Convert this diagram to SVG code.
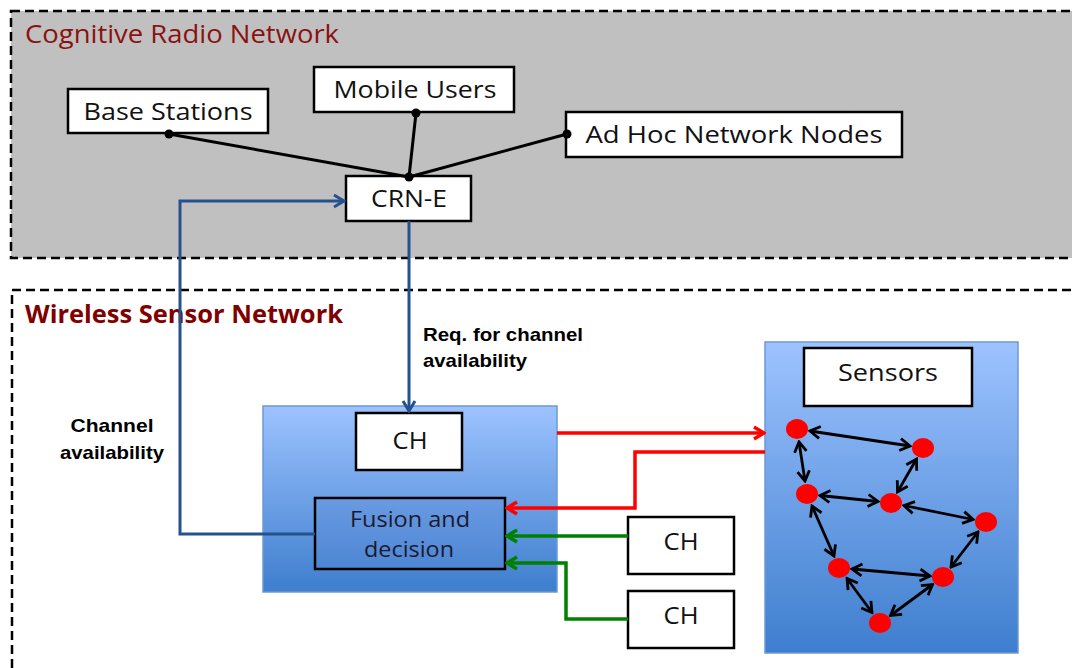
<svg xmlns="http://www.w3.org/2000/svg" width="1072" height="668" viewBox="0 0 1072 668">
<style>
.box{fill:#fff;stroke:#000;stroke-width:2.5}
.lbl{font-family:"Open Sans","Noto Sans",sans-serif;font-size:24px;fill:#111;text-anchor:middle}
.title{font-family:"Open Sans","Noto Sans",sans-serif;font-size:25px;fill:#8B1212}
.note{font-family:"Liberation Sans",Arial,sans-serif;font-size:19px;font-weight:bold;fill:#000}
.blk{stroke:#000;stroke-width:3;fill:none}
.blue{stroke:#23528E;stroke-width:3;fill:none}
.red{stroke:#FF0000;stroke-width:3.5;fill:none}
.green{stroke:#008000;stroke-width:3.5;fill:none}
.link{stroke:#000;stroke-width:2.8;fill:none;marker-start:url(#ab);marker-end:url(#ab)}
.sn{fill:#FF0000}
</style>
<defs>
<linearGradient id="bg" x1="0" y1="0" x2="0" y2="1">
<stop offset="0" stop-color="#9DC3FF"/>
<stop offset="1" stop-color="#3E7ECE"/>
</linearGradient>
<linearGradient id="fg" x1="0" y1="0" x2="0" y2="1">
<stop offset="0" stop-color="#6A9AE2"/>
<stop offset="1" stop-color="#4D86D4"/>
</linearGradient>
<marker id="ab" markerUnits="userSpaceOnUse" markerWidth="16" markerHeight="16" viewBox="0 0 16 16" refX="14" refY="8" orient="auto-start-reverse">
<path d="M4,2 L14,8 L4,14" fill="none" stroke="#000" stroke-width="2.8"/>
</marker>
<marker id="ablue" markerUnits="userSpaceOnUse" markerWidth="16" markerHeight="16" viewBox="0 0 16 16" refX="14" refY="8" orient="auto">
<path d="M4,2 L14,8 L4,14" fill="none" stroke="#23528E" stroke-width="3"/>
</marker>
<marker id="ared" markerUnits="userSpaceOnUse" markerWidth="16" markerHeight="16" viewBox="0 0 16 16" refX="14" refY="8" orient="auto">
<path d="M4,2 L14,8 L4,14" fill="none" stroke="#FF0000" stroke-width="3.5"/>
</marker>
<marker id="agreen" markerUnits="userSpaceOnUse" markerWidth="16" markerHeight="16" viewBox="0 0 16 16" refX="14" refY="8" orient="auto">
<path d="M4,2 L14,8 L4,14" fill="none" stroke="#008000" stroke-width="3.5"/>
</marker>
</defs>

<g id="crn-region">
<rect x="11" y="11" width="1070" height="247" fill="#C0C0C0" stroke="#000" stroke-width="2.5" stroke-dasharray="9,5"/>
<text class="title" x="25" y="43" textLength="314" lengthAdjust="spacingAndGlyphs">Cognitive Radio Network</text>
</g>
<g id="wsn-region">
<rect x="12" y="290" width="1070" height="400" fill="#fff" stroke="#000" stroke-width="2.5" stroke-dasharray="9,5"/>
<text class="title" x="25" y="323" textLength="318" lengthAdjust="spacingAndGlyphs" style="font-weight:bold;fill:#800000">Wireless Sensor Network</text>
</g>

<g id="base-stations"><rect class="box" x="68" y="89" width="200" height="44"/><text class="lbl" x="168" y="120" textLength="169" lengthAdjust="spacingAndGlyphs">Base Stations</text></g>
<g id="mobile-users"><rect class="box" x="314" y="67" width="200" height="45"/><text class="lbl" x="415" y="98" textLength="163" lengthAdjust="spacingAndGlyphs">Mobile Users</text></g>
<g id="adhoc"><rect class="box" x="566" y="112" width="336" height="45"/><text class="lbl" x="734" y="143" textLength="297" lengthAdjust="spacingAndGlyphs">Ad Hoc Network Nodes</text></g>
<g id="crn-e"><rect class="box" x="346" y="176" width="125" height="45"/><text class="lbl" x="409" y="207" textLength="76" lengthAdjust="spacingAndGlyphs">CRN-E</text></g>

<g id="wsn-block">
<rect x="263" y="406" width="294" height="186" fill="url(#bg)" stroke="#6E98D4" stroke-width="1.5"/>
</g>
<g id="ch-main"><rect class="box" x="356" y="413" width="106" height="57"/><text class="lbl" x="410" y="449" textLength="35" lengthAdjust="spacingAndGlyphs">CH</text></g>
<g id="fusion"><rect x="315" y="498" width="190" height="71" fill="url(#fg)" stroke="#000" stroke-width="2.5"/><text class="lbl" x="410" y="527" textLength="120" lengthAdjust="spacingAndGlyphs" style="font-size:22px;fill:#1a1a2e">Fusion and</text><text class="lbl" x="409" y="557" textLength="90" lengthAdjust="spacingAndGlyphs" style="font-size:22px;fill:#1a1a2e">decision</text></g>
<g id="ch-2"><rect class="box" x="628" y="517" width="106" height="57"/><text class="lbl" x="681" y="550" textLength="35" lengthAdjust="spacingAndGlyphs">CH</text></g>
<g id="ch-3"><rect class="box" x="628" y="591" width="106" height="57"/><text class="lbl" x="681" y="624" textLength="35" lengthAdjust="spacingAndGlyphs">CH</text></g>

<g id="sensor-block">
<rect x="765" y="342" width="253" height="311" fill="url(#bg)" stroke="#6E98D4" stroke-width="1.5"/>
</g>
<g id="sensors-label"><rect class="box" x="804" y="348" width="168" height="58"/><text class="lbl" x="888" y="381" textLength="100" lengthAdjust="spacingAndGlyphs">Sensors</text></g>

<g id="connectors">
<circle cx="169" cy="134" r="4.5" fill="#000"/>
<circle cx="416" cy="113" r="4.5" fill="#000"/>
<circle cx="567" cy="134" r="4.5" fill="#000"/>
<circle cx="409" cy="177" r="4.5" fill="#000"/>
<line class="blk" x1="169" y1="134" x2="409" y2="177"/>
<line class="blk" x1="416" y1="113" x2="409" y2="177"/>
<line class="blk" x1="567" y1="134" x2="409" y2="177"/>

<path class="blue" d="M409,221 L409,411" marker-end="url(#ablue)"/>
<path class="blue" d="M315,534 L180,534 L180,201 L344,201" marker-end="url(#ablue)"/>

<path class="red" d="M557,433 L764,433" marker-end="url(#ared)"/>
<path class="red" d="M765,452 L635,452 L635,508 L507,508" marker-end="url(#ared)"/>
<path class="green" d="M628,536 L507,536" marker-end="url(#agreen)"/>
<path class="green" d="M628,619 L566,619 L566,563 L507,563" marker-end="url(#agreen)"/>

<line class="link" x1="810" y1="431" x2="910" y2="446"/>
<line class="link" x1="799" y1="442" x2="805" y2="481"/>
<line class="link" x1="916.5" y1="459" x2="897.5" y2="492"/>
<line class="link" x1="820" y1="495.5" x2="878" y2="501.5"/>
<line class="link" x1="904" y1="505.5" x2="973" y2="519.5"/>
<line class="link" x1="812" y1="506" x2="834" y2="556"/>
<line class="link" x1="978" y1="532" x2="951" y2="567"/>
<line class="link" x1="852" y1="569" x2="930" y2="576"/>
<line class="link" x1="847" y1="578.5" x2="872" y2="612.5"/>
<line class="link" x1="932.5" y1="584.5" x2="890.5" y2="615.5"/>
</g>

<g id="sensor-nodes">
<ellipse class="sn" cx="797" cy="429" rx="11" ry="10"/>
<ellipse class="sn" cx="923" cy="448" rx="11" ry="10"/>
<ellipse class="sn" cx="807" cy="494" rx="11" ry="10"/>
<ellipse class="sn" cx="891" cy="503" rx="11" ry="10"/>
<ellipse class="sn" cx="986" cy="522" rx="11" ry="10"/>
<ellipse class="sn" cx="839" cy="568" rx="11" ry="10"/>
<ellipse class="sn" cx="943" cy="577" rx="11" ry="10"/>
<ellipse class="sn" cx="880" cy="623" rx="11" ry="10"/>
</g>

<g id="labels">
<text class="note" x="423" y="341" textLength="160" lengthAdjust="spacingAndGlyphs">Req. for channel</text>
<text class="note" x="423" y="367" textLength="104" lengthAdjust="spacingAndGlyphs">availability</text>
<text class="note" x="112" y="432" text-anchor="middle" textLength="83" lengthAdjust="spacingAndGlyphs">Channel</text>
<text class="note" x="112" y="459" text-anchor="middle" textLength="104" lengthAdjust="spacingAndGlyphs">availability</text>
</g>
</svg>
